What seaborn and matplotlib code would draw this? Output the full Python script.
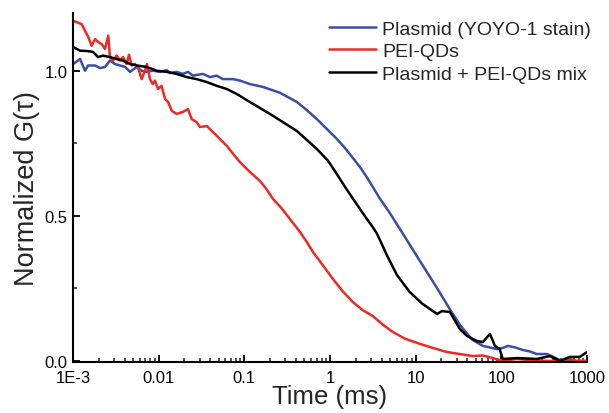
import numpy as np
import pandas as pd
import matplotlib
matplotlib.use("Agg")
import matplotlib.pyplot as plt
from matplotlib.ticker import FixedLocator, FixedFormatter, NullFormatter, LogLocator
import seaborn as sns

# ---------------- data ----------------
plasmid_t = [0.00100, 0.00121, 0.00138, 0.00150, 0.00181, 0.00207, 0.00236, 0.00270, 0.00309,
             0.00353, 0.00405, 0.00463, 0.00554, 0.00633, 0.00724, 0.00859, 0.0104, 0.0124,
             0.0136, 0.0162, 0.0192, 0.0220, 0.0251, 0.0329, 0.0397, 0.0475, 0.0562, 0.0736,
             0.0888, 0.116, 0.165, 0.260, 0.411, 0.537, 0.703, 0.920, 1.20, 1.49, 1.85, 2.29,
             2.77, 3.82, 5.00, 6.55, 8.57, 11.2, 14.7, 19.2, 26.5, 32.8, 39.6, 46.4, 60.8,
             88.8, 104, 119, 144, 178, 215, 260, 340, 399, 482, 631, 1000]
plasmid_g = [1.024, 1.041, 1.001, 1.019, 1.019, 1.010, 1.014, 1.036, 1.024,
             1.019, 1.014, 0.997, 1.014, 1.001, 0.997, 1.001, 0.997, 1.003,
             0.993, 0.997, 0.990, 0.997, 0.984, 0.990, 0.979, 0.984, 0.972, 0.972,
             0.967, 0.955, 0.945, 0.925, 0.893, 0.865, 0.834, 0.800, 0.766, 0.735, 0.700, 0.665,
             0.628, 0.560, 0.510, 0.455, 0.400, 0.345, 0.290, 0.235, 0.167, 0.125, 0.095, 0.072, 0.052,
             0.041, 0.045, 0.052, 0.047, 0.038, 0.033, 0.024, 0.024, 0.015, 0.003, 0.000, 0.000]

pei_t = [0.00100, 0.00126, 0.00138, 0.00151, 0.00165, 0.00181, 0.00197, 0.00216, 0.00236,
         0.00258, 0.00270, 0.00293, 0.00324, 0.00353, 0.00383, 0.00423, 0.00450, 0.00484,
         0.00529, 0.00573, 0.00633, 0.00692, 0.00730, 0.00792, 0.00852, 0.00905, 0.00982,
         0.0108, 0.0119, 0.0129, 0.0142, 0.0162, 0.0192, 0.0220, 0.0243, 0.0277, 0.0303,
         0.0366, 0.0479, 0.0627, 0.0736, 0.0888, 0.116, 0.152, 0.179, 0.216, 0.275, 0.340,
         0.446, 0.537, 0.632, 0.826, 1.08, 1.41, 1.85, 2.42, 3.16, 4.14, 5.42, 7.48, 11.2,
         15.9, 23.1, 32.8, 46.4, 60.8, 79.6, 104, 126, 152, 215, 368, 482, 631, 760, 1000]
pei_g = [1.173, 1.162, 1.139, 1.117, 1.087, 1.110, 1.100, 1.093, 1.076,
         1.122, 1.048, 1.036, 1.053, 1.036, 1.048, 1.024, 1.056, 1.019,
         1.024, 1.014, 0.972, 1.001, 1.024, 0.972, 0.955, 0.967, 0.938,
         0.949, 0.903, 0.893, 0.863, 0.852, 0.859, 0.869, 0.834, 0.824, 0.807,
         0.810, 0.776, 0.741, 0.715, 0.686, 0.652, 0.621, 0.595, 0.559, 0.525, 0.490,
         0.445, 0.410, 0.376, 0.330, 0.283, 0.240, 0.203, 0.175, 0.155, 0.125, 0.100, 0.077, 0.059,
         0.045, 0.031, 0.024, 0.017, 0.019, 0.010, 0.000, 0.004, 0.007, 0.003, 0.000, 0.003, 0.007, 0.000, 0.000]

mix_t = [0.00100, 0.00121, 0.00145, 0.00171, 0.00196, 0.00224, 0.00270, 0.00324, 0.00383,
         0.00463, 0.00554, 0.00724, 0.00948, 0.0124, 0.0162, 0.0212, 0.0277, 0.0363, 0.0475,
         0.0622, 0.0813, 0.116, 0.199, 0.411, 0.703, 0.95, 1.20, 1.50, 1.85, 2.24, 2.69, 3.10,
         3.52, 4.00, 4.61, 5.30, 6.03, 8.51, 12.0, 17.8, 20.2, 25.1, 28.6, 32.8, 39.8, 51.8,
         60.8, 69.5, 73.5, 79.6, 84.0, 95.5, 104, 152, 260, 368, 482, 631, 824, 1000]
mix_g = [1.083, 1.070, 1.069, 1.066, 1.048, 1.053, 1.048, 1.041, 1.036,
         1.024, 1.019, 1.014, 1.001, 0.997, 0.990, 0.979, 0.972, 0.962, 0.949,
         0.938, 0.921, 0.893, 0.852, 0.793, 0.731, 0.690, 0.645, 0.600, 0.560, 0.524, 0.490, 0.465,
         0.440, 0.405, 0.365, 0.330, 0.297, 0.238, 0.197, 0.162, 0.172, 0.169, 0.140, 0.110, 0.086, 0.069,
         0.065, 0.085, 0.093, 0.070, 0.052, 0.041, 0.007, 0.010, 0.007, 0.017, 0.000, 0.014, 0.014, 0.031]

series_names = ["Plasmid (YOYO-1 stain)", "PEI-QDs", "Plasmid + PEI-QDs mix"]
series_colors = ["#3A4FA3", "#EE2A24", "#000000"]

x_tick_values = [1e-3, 1e-2, 1e-1, 1, 10, 100, 1000]
x_tick_labels = ["1E-3", "0.01", "0.1", "1", "10", "100", "1000"]
y_tick_values = [0.0, 0.5, 1.0]
y_tick_labels = ["0.0", "0.5", "1.0"]

# ---------------- plotting ----------------
sns.set_style("ticks")
plt.rcParams["font.family"] = ["Liberation Sans", "DejaVu Sans"]

W, H = 609, 414
fig = plt.figure(figsize=(W / 100, H / 100), dpi=100)
ax = fig.add_axes([73 / W, 1 - 363 / H, (587 - 73) / W, (363 - 14) / H])

frames = []
for name, t, g in zip(series_names, [plasmid_t, pei_t, mix_t], [plasmid_g, pei_g, mix_g]):
    frames.append(pd.DataFrame({"time": t, "G": g, "series": name}))
df = pd.concat(frames, ignore_index=True)

for name, color in zip(series_names, series_colors):
    sub = df[df["series"] == name]
    sns.lineplot(data=sub, x="time", y="G", ax=ax, color=color, lw=1.8,
                 label=name, sort=False, estimator=None)

ax.set_xscale("log")
ax.set_xlim(1e-3, 1000)
ax.set_ylim(-0.0035, 1.2)

ax.xaxis.set_major_locator(FixedLocator(x_tick_values))
ax.xaxis.set_major_formatter(FixedFormatter(x_tick_labels))
ax.xaxis.set_minor_locator(LogLocator(base=10, subs=np.arange(2, 10), numticks=20))
ax.xaxis.set_minor_formatter(NullFormatter())
ax.yaxis.set_major_locator(FixedLocator(y_tick_values))
ax.yaxis.set_major_formatter(FixedFormatter(y_tick_labels))
ax.yaxis.set_minor_locator(FixedLocator([0.25, 0.75]))

ax.tick_params(which="major", direction="in", length=5, width=1.3, labelsize=12, pad=6, colors="black")
ax.tick_params(which="minor", direction="in", length=3, width=1.1)
ax.tick_params(axis="y", which="major", pad=4)

for s in ["top", "right"]:
    ax.spines[s].set_visible(False)
for s in ["left", "bottom"]:
    ax.spines[s].set_linewidth(1.5)
    ax.spines[s].set_color("black")

ax.set_xlabel("Time (ms)", fontsize=18.5, labelpad=-1)
ax.set_ylabel("Normalized G(\u03c4)", fontsize=19.5, labelpad=3)

leg = ax.legend(loc="upper left", bbox_to_anchor=(329 / W, 1 - 21 / H), bbox_transform=fig.transFigure,
                frameon=False, fontsize=14, handlelength=2.4, handletextpad=0.35,
                labelspacing=0.26, borderpad=0, borderaxespad=0)
for line in leg.get_lines():
    line.set_linewidth(1.8)

fig.savefig("out.png", dpi=100)
